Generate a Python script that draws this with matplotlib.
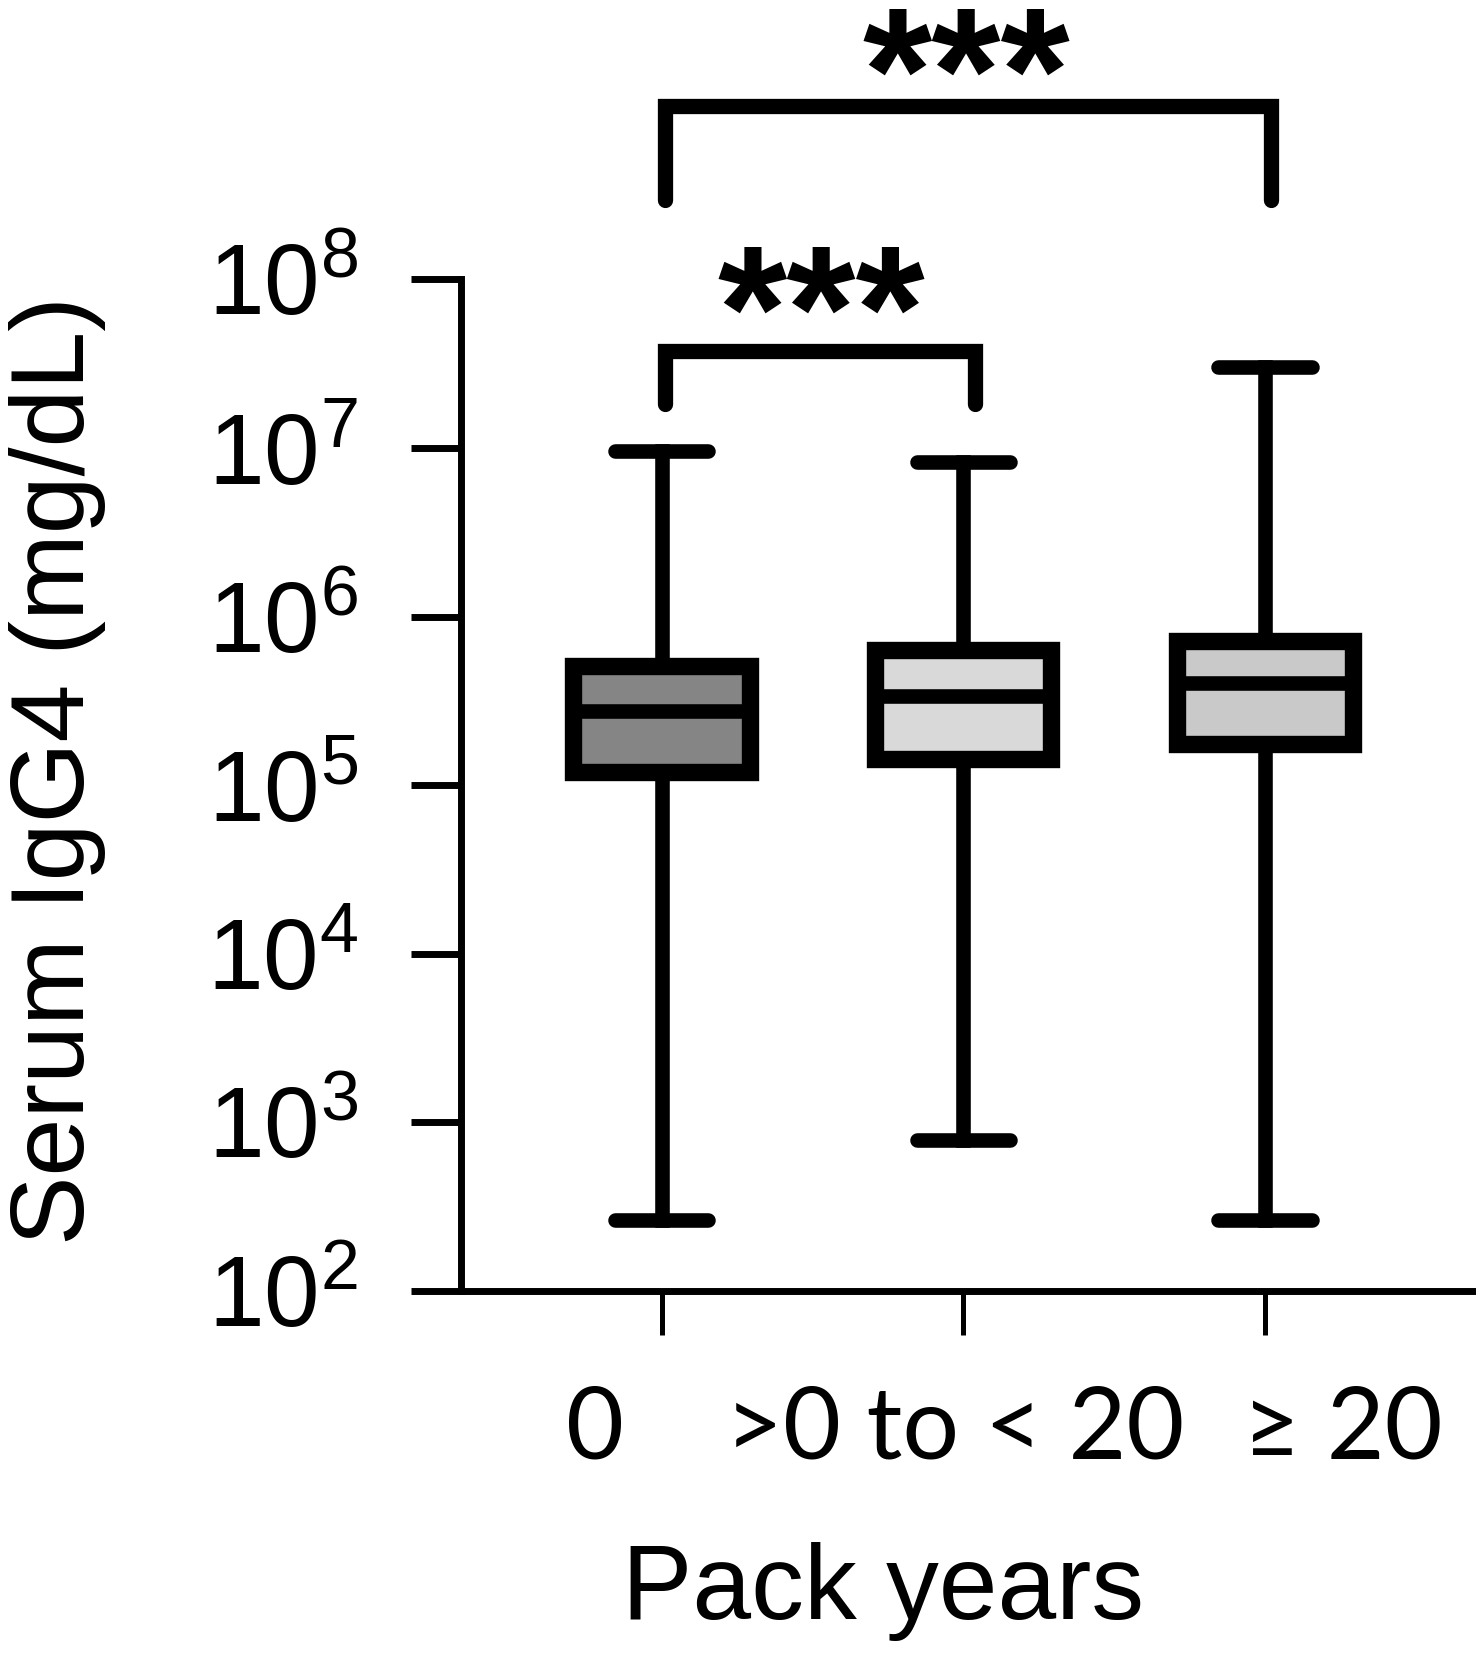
import numpy as np
import matplotlib
matplotlib.use("Agg")
import matplotlib.pyplot as plt
from matplotlib.ticker import FixedLocator, LogFormatterSciNotation

plt.rcParams['font.family'] = ['Liberation Sans', 'DejaVu Sans']
plt.rcParams['mathtext.fontset'] = 'custom'
plt.rcParams['mathtext.rm'] = 'Liberation Sans'
plt.rcParams['mathtext.it'] = 'Liberation Sans:italic'
plt.rcParams['mathtext.bf'] = 'Liberation Sans:bold'

# data (mg/dL, log scale)
groups = ["0", ">0 to < 20", "\u2265 20"]
whisker_low = [263, 783, 263]
q1 = [1.19e5, 1.43e5, 1.75e5]
median = [2.74e5, 3.4e5, 4.04e5]
q3 = [5.08e5, 6.3e5, 7.2e5]
whisker_high = [9.6e6, 8.3e6, 3.03e7]
box_colors = ["#858585", "#d9d9d9", "#c9c9c9"]

stats = []
for i in range(3):
    stats.append({'med': median[i], 'q1': q1[i], 'q3': q3[i],
                  'whislo': whisker_low[i], 'whishi': whisker_high[i],
                  'label': groups[i]})

fig = plt.figure(figsize=(14.76, 16.53), dpi=100)
ax = fig.add_axes([0.312, 0.219, 0.688, 0.612])

pos = np.arange(3)
bp = ax.bxp(stats, positions=pos, widths=0.585, showfliers=False, patch_artist=True,
            boxprops=dict(linewidth=12.5, edgecolor='black'),
            medianprops=dict(linewidth=10.5, color='black', solid_capstyle='butt'),
            whiskerprops=dict(linewidth=10.5, color='black'),
            capprops=dict(linewidth=10.5, color='black', solid_capstyle='round'),
            capwidths=0.31)
for patch, c in zip(bp['boxes'], box_colors):
    patch.set_facecolor(c)
    patch.set_joinstyle('miter')
for w in bp['whiskers']:
    w.set_zorder(1)

ax.set_yscale('log')
ax.set_ylim(1e2, 1e8)
ax.set_xlim(-0.667, 2.70)
ax.yaxis.set_major_locator(FixedLocator([10.0**k for k in range(2, 9)]))
ax.yaxis.set_major_formatter(LogFormatterSciNotation())
ax.yaxis.set_minor_locator(FixedLocator([]))
ax.tick_params(axis='y', which='major', length=36, width=5, labelsize=72, pad=38)
ax.set_xticks(pos)
ax.set_xticklabels([])
ax.tick_params(axis='x', length=32, width=3.6, direction='out')

for s in ['top', 'right']:
    ax.spines[s].set_visible(False)
ax.spines['left'].set_linewidth(5)
ax.spines['bottom'].set_linewidth(5)

# category labels, shifted like in the original
label_x = [-0.22, 0.97, 2.26]
for x, t in zip(label_x, groups):
    ax.text(x, -0.137, t, transform=ax.get_xaxis_transform(), ha='center', va='center',
            fontsize=72, family=['Lato', 'DejaVu Sans'])

# significance brackets
def bracket(x1, x2, ytop, ybot, star_x, star_y):
    ax.plot([x1, x1, x2, x2], [10**ybot, 10**ytop, 10**ytop, 10**ybot], color='black',
            lw=11, clip_on=False, solid_capstyle='round', solid_joinstyle='miter')
    ax.text(star_x, 10**star_y, "***", ha='center', va='center', fontsize=128,
            fontweight='bold', clip_on=False)

bracket(0.01, 1.04, 7.573, 7.26, 0.53, 7.735)
bracket(0.01, 2.02, 9.03, 8.47, 1.01, 9.15)

fig.text(0.598, 0.037, "Pack years", ha='center', va='center', fontsize=76)
fig.text(0.039, 0.534, "Serum IgG4 (mg/dL)", ha='center', va='center', fontsize=75,
         rotation=90)

fig.savefig("out.png", dpi=100)
